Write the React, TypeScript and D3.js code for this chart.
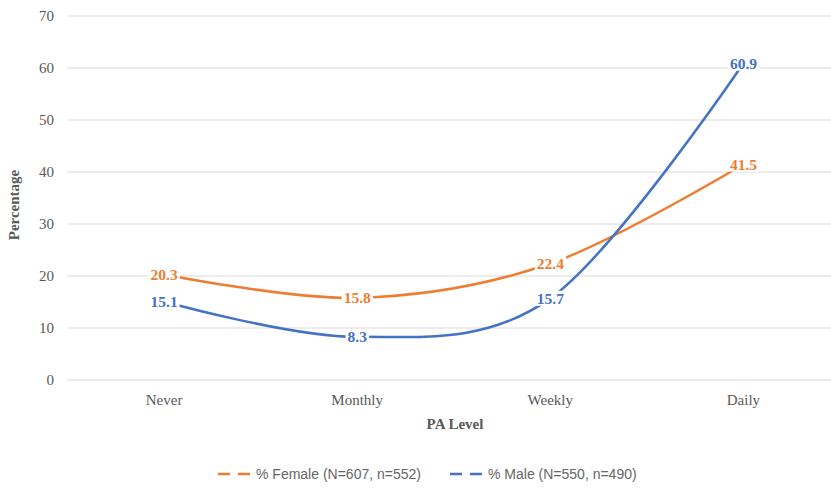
import React, { useEffect, useRef } from 'react';
import * as d3 from 'd3';

const categories = ['Never', 'Monthly', 'Weekly', 'Daily'];
const female = [20.3, 15.8, 22.4, 41.5];
const male = [15.1, 8.3, 15.7, 60.9];
const yTicks = [0, 10, 20, 30, 40, 50, 60, 70];
const seriesNames = ['% Female (N=607, n=552)', '% Male (N=550, n=490)'];
const seriesColors = ['#ED7D31', '#4472C4'];

const App = () => {
  const svgRef = useRef<SVGSVGElement>(null);

  useEffect(() => {
    const width = 831;
    const height = 488;
    const svg = d3.select(svgRef.current).attr('width', width).attr('height', height);
    svg.selectAll('*').remove();

    const serif = '"Liberation Serif", "Times New Roman", serif';
    const x = d3.scaleBand().domain(categories).range([67.5, 840]);
    const cx = (c: string) => (x(c) as number) + x.bandwidth() / 2;
    const y = d3.scaleLinear().domain([0, 70]).range([380, 16]);

    // gridlines
    svg.append('g')
      .selectAll('line')
      .data(yTicks)
      .enter().append('line')
      .attr('x1', 67.5)
      .attr('x2', 840)
      .attr('y1', d => y(d))
      .attr('y2', d => y(d))
      .attr('stroke', '#d9d9d9')
      .attr('stroke-width', 1);

    // y tick labels
    svg.append('g')
      .selectAll('text')
      .data(yTicks)
      .enter().append('text')
      .attr('x', 54)
      .attr('y', d => y(d))
      .attr('dy', '0.35em')
      .attr('text-anchor', 'end')
      .attr('font-family', serif)
      .attr('font-size', 15)
      .attr('fill', '#595959')
      .text(d => d);

    // x tick labels
    svg.append('g')
      .selectAll('text')
      .data(categories)
      .enter().append('text')
      .attr('x', d => cx(d))
      .attr('y', 405)
      .attr('text-anchor', 'middle')
      .attr('font-family', serif)
      .attr('font-size', 15)
      .attr('fill', '#595959')
      .text(d => d);

    // axis titles
    svg.append('text')
      .attr('x', 455)
      .attr('y', 429)
      .attr('text-anchor', 'middle')
      .attr('font-family', serif)
      .attr('font-size', 15)
      .attr('font-weight', 'bold')
      .attr('fill', '#595959')
      .text('PA Level');

    svg.append('text')
      .attr('transform', 'translate(19, 205) rotate(-90)')
      .attr('text-anchor', 'middle')
      .attr('font-family', serif)
      .attr('font-size', 15)
      .attr('font-weight', 'bold')
      .attr('fill', '#595959')
      .text('Percentage');

    const line = d3.line<number>()
      .x((_, i) => cx(categories[i]))
      .y(d => y(d))
      .curve(d3.curveCardinal.tension(0));

    const series = [female, male];
    series.forEach((vals, s) => {
      svg.append('path')
        .datum(vals)
        .attr('d', line)
        .attr('fill', 'none')
        .attr('stroke', seriesColors[s])
        .attr('stroke-width', 2.5)
        .attr('stroke-linecap', 'round');
    });

    // data labels
    series.forEach((vals, s) => {
      const g = svg.append('g');
      vals.forEach((v, i) => {
        const t = g.append('text')
          .attr('x', cx(categories[i]))
          .attr('y', y(v))
          .attr('dy', '0.35em')
          .attr('text-anchor', 'middle')
          .attr('font-family', serif)
          .attr('font-size', 15.5)
          .attr('font-weight', 'bold')
          .attr('fill', seriesColors[s])
          .text(v.toFixed(1));
        const bb = (t.node() as SVGTextElement).getBBox();
        g.insert('rect', 'text')
          .attr('x', bb.x - 2)
          .attr('y', bb.y + 1)
          .attr('width', bb.width + 4)
          .attr('height', bb.height - 2)
          .attr('fill', '#fff');
      });
    });

    // legend
    const legendX = [218, 450];
    seriesNames.forEach((name, s) => {
      svg.append('line')
        .attr('x1', legendX[s])
        .attr('x2', legendX[s] + 35)
        .attr('y1', 474)
        .attr('y2', 474)
        .attr('stroke', seriesColors[s])
        .attr('stroke-width', 2.5)
        .attr('stroke-dasharray', '12,8');
      svg.append('text')
        .attr('x', legendX[s] + 38)
        .attr('y', 479)
        .attr('font-family', '"Liberation Sans", Arial, sans-serif')
        .attr('font-size', 14)
        .attr('fill', '#666666')
        .text(name);
    });
  }, []);

  return <svg ref={svgRef} style={{ position: 'absolute', left: 0, top: 0 }}></svg>;
};

export default App;
